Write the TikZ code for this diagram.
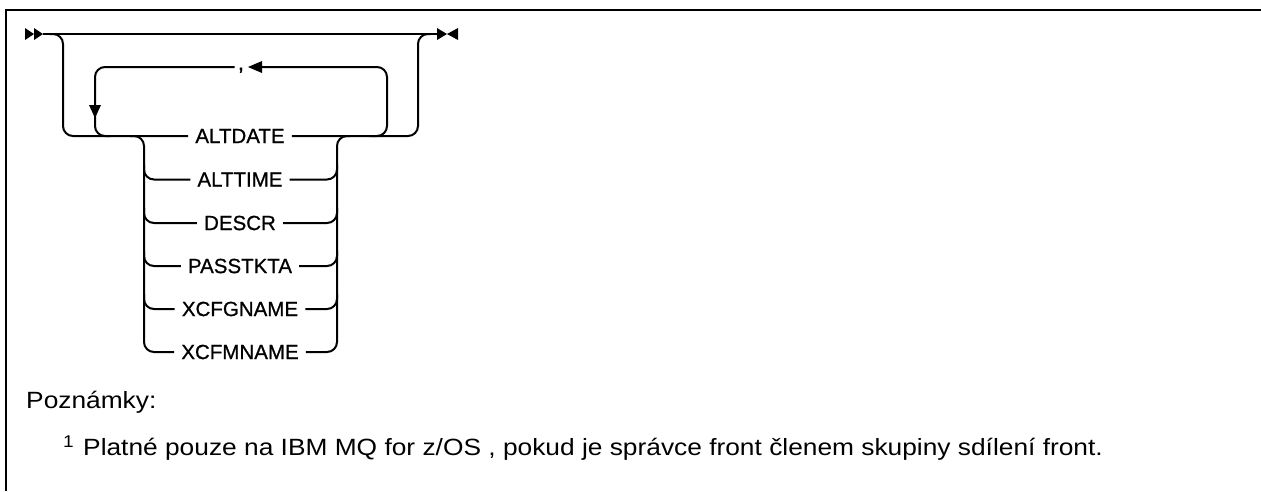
\documentclass[tikz,border=0pt]{standalone}
\usepackage{fontspec}
\setmainfont{Liberation Sans}
\newfontfamily\kwfont[FakeBold=0.8]{Liberation Sans}
\newfontfamily\notefont[FakeStretch=1.12]{Liberation Sans}
\begin{document}
\begin{tikzpicture}[x=1pt,y=-1pt,
  rail/.style={line width=2pt,rounded corners=10pt},
  kw/.style={font=\kwfont\fontsize{20.5}{23}\selectfont,inner xsep=7pt,inner ysep=0pt},
  tipfill/.style={fill=black,draw=none},
  notetext/.style={font=\notefont\fontsize{23.5}{27}\selectfont,inner sep=0pt}]
\useasboundingbox (0,0) rectangle (1261,491);
% frame
\draw[line width=2pt] (6,491) -- (6,10) -- (1261,10);
% coordinates
\coordinate (start) at (43,34);
\coordinate (stop) at (437,34);
% keyword nodes
\node[kw] (k1) at (240,136) {ALTDATE};
\node[kw] (k2) at (240,179.5) {ALTTIME};
\node[kw] (k3) at (240,223) {DESCR};
\node[kw] (k4) at (240,266) {PASSTKTA};
\node[kw] (k5) at (240,309) {XCFGNAME};
\node[kw] (k6) at (240,352) {XCFMNAME};
\node[kw,anchor=base,inner xsep=3pt,font=\kwfont\fontsize{22}{24}\selectfont] (comma) at (241,70) {,};
% start / end tips
\fill[tipfill] (25,28) -- (34,34) -- (25,40) -- cycle;
\fill[tipfill] (34,28) -- (43,34) -- (34,40) -- cycle;
\fill[tipfill] (437,28) -- (447,34) -- (437,40) -- cycle;
\fill[tipfill] (458,28) -- (447,34) -- (458,40) -- cycle;
% main line
\draw[line width=2pt] (start) -- (stop);
% outer bypass
\draw[rail] (50,34) -- (63,34) -- (63,136) -- (k1.west);
\draw[rail] (k1.east) -- (418,136) -- (418,34) -- (430,34);
% repeat loop
\draw[rail] (370,136) -- (387,136) -- (387,67) -- (262,67);
\fill[tipfill] (248,67) -- (262,61) -- (262,73) -- cycle;
\draw[rail] (comma.west |- 0,67) -- (95,67) -- (95,136) -- (110,136);
\fill[tipfill] (89,105) -- (101,105) -- (95,118) -- cycle;
% inner choice
\draw[rail] (130,136) -- (144,136) -- (144,352) -- (k6.west);
\draw[rail] (350,136) -- (337,136) -- (337,352) -- (k6.east);
\foreach \k/\y in {k2/179.5,k3/223,k4/266,k5/309}{
  \draw[rail] (144,\y-15) -- (144,\y) -- (\k.west);
  \draw[rail] (337,\y-15) -- (337,\y) -- (\k.east);
}
% notes
\node[notetext,anchor=base west] (notes) at (26,408) {Poznámky:};
\node[notetext,anchor=base west,font=\notefont\fontsize{17}{20}\selectfont] (n1) at (63,447) {1};
\node[notetext,anchor=base west] (note1) at (83,455) {Platné pouze na IBM MQ for z/OS , pokud je správce front členem skupiny sdílení front.};
\end{tikzpicture}
\end{document}
